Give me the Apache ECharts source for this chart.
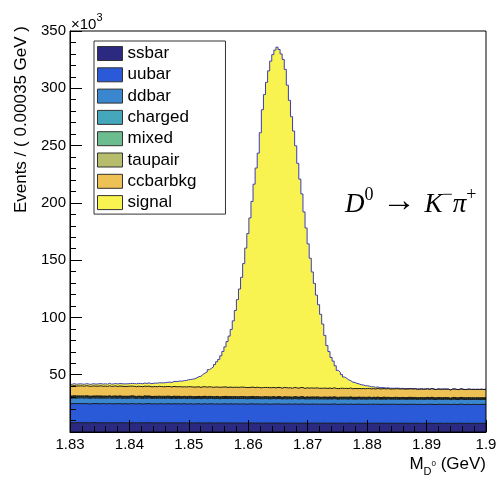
<!DOCTYPE html>
<html>
<head>
<meta charset="utf-8">
<script src="https://cdn.jsdelivr.net/npm/echarts@6/dist/echarts.min.js"></script>
<style>
  html, body { margin: 0; padding: 0; background: #fff; }
  #chart { width: 497px; height: 481px; }
</style>
</head>
<body>
<div id="chart"></div>
<script>
// Binning of the D0 candidate mass histogram (GeV)
const X_MIN = 1.83;
const X_MAX = 1.9;
const BIN_WIDTH = 0.00035;

// Axis ticks
const xTickInterval = 0.01;
const yTickInterval = 50;
const yMax = 350;

// Stack components, bottom to top
const componentNames = ['ssbar', 'uubar', 'ddbar', 'charged', 'mixed', 'taupair', 'ccbarbkg', 'signal'];

// Candidates per bin, in units of 10^3 events (200 bins each)
const ssbar = [
  8.1,8.0,8.2,8.1,8.1,8.0,8.2,8.1,8.0,8.1,8.1,8.2,8.0,8.1,8.0,8.1,8.1,8.0,8.1,8.0,
  8.1,8.0,8.0,8.1,8.0,8.1,7.9,8.0,8.1,8.0,8.0,7.9,8.1,8.0,8.0,7.9,8.0,8.1,8.0,7.9,
  8.0,7.9,8.0,8.0,7.9,8.1,7.9,8.0,7.9,8.0,7.9,8.0,7.9,7.9,8.0,7.9,7.8,8.0,7.9,7.9,
  7.9,8.0,7.8,7.9,7.9,7.8,8.0,7.9,7.9,7.8,7.9,7.9,7.8,7.9,7.9,7.8,7.9,7.8,7.9,7.9,
  7.8,7.9,7.8,7.9,7.8,7.8,7.9,7.8,7.8,7.9,7.8,7.8,7.7,7.9,7.8,7.8,7.7,7.8,7.8,7.9,
  7.8,7.7,7.8,7.8,7.7,7.8,7.7,7.8,7.8,7.7,7.8,7.7,7.7,7.8,7.7,7.8,7.7,7.7,7.8,7.7,
  7.7,7.8,7.7,7.6,7.7,7.7,7.8,7.7,7.6,7.7,7.7,7.7,7.6,7.7,7.8,7.7,7.6,7.7,7.7,7.6,
  7.7,7.6,7.7,7.7,7.6,7.7,7.6,7.7,7.7,7.6,7.7,7.6,7.6,7.7,7.6,7.7,7.6,7.6,7.7,7.6,
  7.6,7.7,7.6,7.6,7.5,7.7,7.6,7.6,7.6,7.5,7.6,7.7,7.6,7.6,7.5,7.6,7.6,7.7,7.6,7.5,
  7.6,7.6,7.5,7.6,7.6,7.5,7.6,7.7,7.6,7.5,7.6,7.6,7.5,7.6,7.5,7.6,7.6,7.5,7.6,7.6
];
const uubar = [
  16.6,16.8,16.5,16.7,16.6,16.9,16.5,16.7,16.6,16.4,16.7,16.6,16.8,16.5,16.6,16.7,16.5,16.6,16.8,16.6,
  16.5,16.7,16.6,16.8,16.4,16.6,16.7,16.5,16.6,16.8,16.6,16.5,16.7,16.6,16.4,16.7,16.6,16.8,16.5,16.6,
  16.7,16.5,16.6,16.7,16.6,16.4,16.8,16.6,16.5,16.7,16.6,16.7,16.5,16.6,16.8,16.5,16.6,16.7,16.4,16.6,
  16.6,16.7,16.5,16.6,16.8,16.5,16.6,16.7,16.6,16.5,16.7,16.4,16.6,16.7,16.6,16.5,16.8,16.6,16.5,16.7,
  16.6,16.5,16.7,16.6,16.4,16.7,16.6,16.8,16.5,16.6,16.7,16.5,16.6,16.6,16.7,16.4,16.6,16.7,16.5,16.6,
  16.7,16.5,16.6,16.4,16.7,16.6,16.5,16.7,16.6,16.5,16.6,16.8,16.5,16.6,16.4,16.6,16.7,16.5,16.6,16.5,
  16.6,16.4,16.7,16.5,16.6,16.5,16.7,16.6,16.4,16.6,16.5,16.7,16.6,16.5,16.6,16.4,16.6,16.5,16.7,16.5,
  16.5,16.6,16.4,16.6,16.5,16.7,16.5,16.6,16.4,16.5,16.6,16.5,16.7,16.4,16.6,16.5,16.6,16.4,16.5,16.6,
  16.5,16.4,16.6,16.5,16.7,16.5,16.4,16.6,16.5,16.5,16.4,16.6,16.5,16.7,16.5,16.4,16.6,16.5,16.4,16.6,
  16.5,16.6,16.4,16.5,16.6,16.4,16.5,16.7,16.5,16.4,16.6,16.5,16.4,16.6,16.5,16.5,16.4,16.6,16.5,16.5
];
const ddbar = [
  4.9,5.0,4.8,4.9,5.1,4.9,4.8,5.0,4.9,4.9,5.0,4.8,4.9,5.0,4.9,4.8,5.0,4.9,4.9,4.8,
  5.0,4.9,4.8,4.9,5.0,4.8,4.9,4.9,4.8,5.0,4.9,4.8,4.9,4.9,4.8,5.0,4.8,4.9,4.8,4.9,
  4.8,4.9,4.9,4.7,4.9,4.8,4.9,4.8,4.8,4.9,4.7,4.8,4.9,4.8,4.8,4.7,4.9,4.8,4.8,4.7,
  4.8,4.8,4.7,4.9,4.8,4.7,4.8,4.8,4.7,4.8,4.8,4.7,4.8,4.7,4.8,4.8,4.7,4.7,4.8,4.7,
  4.7,4.8,4.7,4.7,4.8,4.6,4.7,4.8,4.7,4.7,4.6,4.8,4.7,4.7,4.6,4.7,4.7,4.8,4.6,4.7,
  4.7,4.6,4.7,4.7,4.6,4.7,4.6,4.7,4.7,4.6,4.6,4.7,4.6,4.6,4.7,4.6,4.5,4.7,4.6,4.6,
  4.6,4.6,4.5,4.6,4.7,4.5,4.6,4.6,4.5,4.6,4.6,4.5,4.6,4.5,4.6,4.6,4.5,4.5,4.6,4.5,
  4.6,4.5,4.5,4.6,4.5,4.5,4.4,4.6,4.5,4.5,4.5,4.4,4.6,4.5,4.5,4.4,4.5,4.5,4.4,4.5,
  4.5,4.4,4.5,4.5,4.4,4.5,4.4,4.4,4.5,4.4,4.5,4.4,4.4,4.5,4.4,4.3,4.5,4.4,4.4,4.5,
  4.4,4.4,4.3,4.5,4.4,4.4,4.3,4.4,4.4,4.5,4.3,4.4,4.4,4.3,4.4,4.4,4.3,4.4,4.4,4.4
];
const charged = [
  0.8,0.9,0.8,0.8,0.7,0.8,0.9,0.8,0.8,0.8,0.7,0.8,0.9,0.8,0.8,0.7,0.8,0.8,0.9,0.8,
  0.8,0.7,0.8,0.8,0.8,0.9,0.7,0.8,0.8,0.7,0.8,0.8,0.8,0.7,0.8,0.9,0.8,0.7,0.8,0.8,
  0.7,0.8,0.8,0.7,0.8,0.8,0.7,0.8,0.7,0.8,0.8,0.7,0.8,0.7,0.7,0.8,0.8,0.7,0.7,0.8,
  0.7,0.7,0.8,0.7,0.7,0.8,0.7,0.7,0.7,0.8,0.7,0.7,0.6,0.7,0.8,0.7,0.7,0.7,0.7,0.6,
  0.7,0.7,0.7,0.8,0.7,0.7,0.6,0.7,0.7,0.7,0.7,0.6,0.7,0.7,0.7,0.7,0.6,0.7,0.7,0.7,
  0.7,0.6,0.7,0.7,0.7,0.6,0.7,0.7,0.6,0.7,0.7,0.7,0.6,0.7,0.7,0.6,0.7,0.7,0.6,0.7,
  0.6,0.7,0.7,0.6,0.7,0.6,0.7,0.6,0.7,0.7,0.6,0.6,0.7,0.6,0.7,0.6,0.6,0.7,0.6,0.6,
  0.7,0.6,0.6,0.7,0.6,0.6,0.6,0.7,0.6,0.6,0.6,0.7,0.6,0.6,0.5,0.6,0.7,0.6,0.6,0.6,
  0.6,0.6,0.7,0.6,0.6,0.5,0.6,0.6,0.6,0.7,0.6,0.6,0.5,0.6,0.6,0.6,0.6,0.5,0.6,0.6,
  0.6,0.5,0.6,0.6,0.6,0.6,0.5,0.6,0.6,0.6,0.5,0.6,0.6,0.6,0.5,0.6,0.6,0.6,0.5,0.6
];
const mixed = [
  0.6,0.6,0.7,0.6,0.6,0.5,0.6,0.6,0.7,0.6,0.6,0.6,0.5,0.6,0.7,0.6,0.6,0.6,0.5,0.6,
  0.6,0.7,0.6,0.6,0.6,0.5,0.6,0.6,0.6,0.7,0.6,0.6,0.5,0.6,0.6,0.6,0.7,0.6,0.6,0.5,
  0.6,0.6,0.6,0.5,0.6,0.6,0.7,0.6,0.6,0.5,0.6,0.6,0.6,0.6,0.5,0.6,0.6,0.6,0.6,0.5,
  0.6,0.6,0.5,0.6,0.6,0.6,0.6,0.5,0.6,0.6,0.6,0.5,0.6,0.6,0.6,0.6,0.5,0.6,0.6,0.6,
  0.5,0.6,0.6,0.6,0.5,0.6,0.6,0.6,0.5,0.6,0.6,0.5,0.6,0.6,0.5,0.6,0.6,0.6,0.5,0.6,
  0.6,0.5,0.6,0.6,0.5,0.6,0.5,0.6,0.6,0.5,0.6,0.6,0.5,0.6,0.5,0.6,0.6,0.5,0.6,0.5,
  0.5,0.6,0.5,0.6,0.5,0.6,0.5,0.5,0.6,0.5,0.6,0.5,0.5,0.6,0.5,0.5,0.6,0.5,0.5,0.6,
  0.5,0.5,0.6,0.5,0.5,0.5,0.6,0.5,0.5,0.5,0.6,0.5,0.5,0.5,0.5,0.6,0.5,0.5,0.5,0.5,
  0.5,0.5,0.5,0.6,0.5,0.5,0.5,0.4,0.5,0.5,0.5,0.6,0.5,0.5,0.5,0.5,0.4,0.5,0.5,0.5,
  0.5,0.5,0.4,0.5,0.5,0.5,0.5,0.5,0.4,0.5,0.5,0.5,0.5,0.4,0.5,0.5,0.5,0.5,0.4,0.5
];
const taupair = [
  0.4,0.4,0.5,0.4,0.3,0.4,0.4,0.5,0.4,0.4,0.3,0.4,0.4,0.4,0.5,0.4,0.4,0.3,0.4,0.4,
  0.4,0.5,0.4,0.4,0.4,0.3,0.4,0.4,0.5,0.4,0.4,0.4,0.3,0.4,0.4,0.5,0.4,0.4,0.4,0.3,
  0.4,0.4,0.4,0.5,0.4,0.4,0.3,0.4,0.4,0.4,0.5,0.4,0.4,0.3,0.4,0.4,0.4,0.4,0.5,0.4,
  0.3,0.4,0.4,0.4,0.4,0.5,0.4,0.4,0.3,0.4,0.4,0.4,0.5,0.4,0.4,0.4,0.3,0.4,0.4,0.4,
  0.4,0.5,0.4,0.3,0.4,0.4,0.4,0.4,0.5,0.4,0.3,0.4,0.4,0.4,0.4,0.5,0.4,0.4,0.3,0.4,
  0.4,0.4,0.4,0.5,0.4,0.3,0.4,0.4,0.4,0.4,0.5,0.4,0.3,0.4,0.4,0.4,0.4,0.4,0.5,0.4,
  0.3,0.4,0.4,0.4,0.4,0.4,0.5,0.4,0.4,0.3,0.4,0.4,0.4,0.4,0.5,0.4,0.4,0.3,0.4,0.4,
  0.4,0.4,0.5,0.4,0.3,0.4,0.4,0.4,0.4,0.4,0.5,0.4,0.3,0.4,0.4,0.4,0.4,0.5,0.4,0.4,
  0.3,0.4,0.4,0.4,0.4,0.5,0.4,0.4,0.3,0.4,0.4,0.4,0.4,0.5,0.4,0.3,0.4,0.4,0.4,0.4,
  0.4,0.4,0.3,0.4,0.5,0.4,0.4,0.4,0.4,0.3,0.4,0.4,0.5,0.4,0.4,0.4,0.4,0.3,0.4,0.4
];
const ccbarbkg = [
  8.7,8.8,8.6,8.7,8.9,8.7,8.6,8.8,8.7,8.6,8.8,8.7,8.5,8.7,8.8,8.6,8.7,8.6,8.8,8.6,
  8.6,8.7,8.5,8.6,8.7,8.6,8.5,8.7,8.6,8.4,8.6,8.5,8.7,8.5,8.6,8.4,8.5,8.6,8.4,8.5,
  8.5,8.4,8.6,8.5,8.3,8.5,8.4,8.5,8.3,8.5,8.4,8.3,8.5,8.4,8.3,8.4,8.5,8.3,8.4,8.3,
  8.4,8.3,8.2,8.4,8.3,8.2,8.4,8.3,8.2,8.3,8.2,8.4,8.2,8.3,8.2,8.1,8.3,8.2,8.1,8.2,
  8.2,8.1,8.3,8.1,8.2,8.0,8.2,8.1,8.0,8.2,8.1,8.0,8.1,8.0,8.2,8.0,8.1,7.9,8.1,8.0,
  8.0,7.9,8.1,8.0,7.9,8.0,7.8,8.0,7.9,7.8,8.0,7.9,7.8,7.9,7.8,7.9,7.7,7.9,7.8,7.7,
  7.9,7.7,7.8,7.7,7.8,7.6,7.8,7.7,7.6,7.7,7.8,7.6,7.7,7.6,7.7,7.5,7.7,7.6,7.5,7.6,
  7.6,7.5,7.7,7.5,7.6,7.5,7.4,7.6,7.5,7.6,7.4,7.5,7.6,7.4,7.5,7.4,7.5,7.6,7.4,7.5,
  7.4,7.5,7.3,7.5,7.4,7.5,7.3,7.4,7.5,7.3,7.4,7.4,7.3,7.5,7.4,7.3,7.4,7.3,7.4,7.3,
  7.4,7.3,7.2,7.4,7.3,7.3,7.2,7.4,7.3,7.2,7.3,7.4,7.2,7.3,7.3,7.2,7.3,7.4,7.2,7.3
];
const signal = [
  1.5,1.7,1.6,1.6,1.8,1.6,1.7,1.7,1.8,1.7,1.9,1.8,1.8,2.0,1.9,1.9,2.0,1.9,2.1,2.0,
  2.0,2.1,2.2,2.1,2.2,2.2,2.3,2.2,2.3,2.4,2.4,2.5,2.5,2.6,2.5,2.7,2.6,2.8,2.7,2.9,
  3.0,3.1,3.1,3.3,3.4,3.5,3.7,3.8,4.0,4.3,4.5,4.7,4.9,5.1,5.4,5.7,6.0,6.3,6.8,7.3,
  8.0,8.8,9.8,10.8,12.0,13.3,14.9,16.3,17.8,19.7,22.0,24.4,27.4,31.0,35.0,40.0,44.5,50.5,58.0,67.0,
  76.6,85.7,95.8,108.0,121.7,134.4,147.8,162.0,177.6,191.3,204.6,222.6,242.5,255.6,266.3,276.5,285.0,290.5,294.8,297.0,
  295.0,291.8,286.3,277.8,264.2,250.9,237.0,223.8,211.2,196.3,181.9,169.0,154.1,139.5,126.0,113.2,101.4,91.3,81.0,73.0,
  64.5,56.0,46.0,37.5,31.8,27.2,23.3,19.7,16.0,14.0,11.9,10.0,8.8,7.6,6.4,5.8,5.2,4.6,4.0,3.4,
  3.1,2.7,2.4,2.0,1.8,1.6,1.4,1.3,1.1,1.0,0.8,0.8,0.7,0.7,0.6,0.6,0.5,0.5,0.5,0.4,
  0.4,0.4,0.3,0.3,0.3,0.3,0.3,0.2,0.3,0.2,0.2,0.2,0.2,0.2,0.2,0.1,0.2,0.2,0.1,0.2,
  0.1,0.2,0.1,0.1,0.2,0.1,0.1,0.1,0.2,0.1,0.1,0.1,0.1,0.1,0.1,0.1,0.1,0.1,0.1,0.1
];

const componentYields = [ssbar, uubar, ddbar, charged, mixed, taupair, ccbarbkg, signal];

// Fill and outline styles per component
const fillColors = ['#2c2a80', '#2a5ad8', '#3a87d0', '#44a7bb', '#6bbd8f', '#b8bd6d', '#edc153', '#f8f350'];
const edgeColors = ['#1a1a1a', '#1a1a1a', '#1a1a1a', '#1a1a1a', '#1a1a1a', '#1a1a1a', '#1a1a1a', '#3d3db3'];

// Running sums: the top edge of each layer of the stack
const stackTops = [];
componentYields.reduce((below, values) => {
  const top = values.map((v, i) => below[i] + v);
  stackTops.push(top);
  return top;
}, new Array(ssbar.length).fill(0));

// Histogram as step points: one point per bin left edge, plus the closing right edge
function histPoints(values) {
  const pts = values.map((v, i) => [X_MIN + i * BIN_WIDTH, v]);
  pts.push([X_MAX, values[values.length - 1]]);
  return pts;
}

const SANS = '"Liberation Sans", Arial, Helvetica, sans-serif';
const SERIF = '"Liberation Serif", "Times New Roman", Times, serif';

// Each layer is filled from zero up to its stack top; the upper layers are
// painted first so that the lower ones cover them.
const layerSeries = componentNames.map((name, k) => ({
  name,
  type: 'line',
  step: 'end',
  symbol: 'none',
  showSymbol: false,
  silent: true,
  z: 2,
  color: fillColors[k],
  itemStyle: { color: fillColors[k] },
  lineStyle: { color: edgeColors[k], width: 1 },
  areaStyle: { color: fillColors[k], opacity: 1, origin: 'start' },
  data: histPoints(stackTops[k])
})).reverse();

const chart = echarts.init(document.getElementById('chart'), null, { renderer: 'canvas' });

chart.setOption({
  animation: false,
  backgroundColor: '#ffffff',
  grid: {
    left: 70, right: 11, top: 31, bottom: 49,
    show: true, z: 10,
    backgroundColor: 'transparent',
    borderColor: '#000', borderWidth: 1,
    containLabel: false,
    outerBoundsMode: 'none'
  },
  xAxis: {
    type: 'value',
    min: X_MIN, max: X_MAX, interval: xTickInterval,
    z: 10,
    axisLine: { show: true, onZero: false, lineStyle: { color: '#000', width: 1 } },
    axisTick: { show: true, inside: true, length: 12, lineStyle: { color: '#000', width: 1 } },
    minorTick: { show: true, splitNumber: 5, length: 6, lineStyle: { color: '#000', width: 1 } },
    splitLine: { show: false },
    minorSplitLine: { show: false },
    axisLabel: {
      color: '#000', fontFamily: SANS, fontSize: 15, margin: 5,
      showMinLabel: true, showMaxLabel: true,
      formatter: v => String(parseFloat(v.toFixed(2)))
    }
  },
  yAxis: {
    type: 'value',
    min: 0, max: yMax, interval: yTickInterval,
    z: 10,
    axisLine: { show: true, onZero: false, lineStyle: { color: '#000', width: 1 } },
    axisTick: { show: true, inside: true, length: 12, lineStyle: { color: '#000', width: 1 } },
    minorTick: { show: true, splitNumber: 5, length: 6, lineStyle: { color: '#000', width: 1 } },
    splitLine: { show: false },
    minorSplitLine: { show: false },
    axisLabel: {
      color: '#000', fontFamily: SANS, fontSize: 15, margin: 4,
      formatter: v => (v === 0 ? '' : String(Math.round(v)))
    }
  },
  legend: {
    show: true,
    orient: 'vertical',
    left: 94, top: 41,
    padding: [4, 29, 3, 3],
    itemGap: 4.3,
    itemWidth: 25, itemHeight: 14,
    icon: 'rect',
    selectedMode: false,
    borderColor: '#333', borderWidth: 1,
    backgroundColor: '#fff',
    z: 20,
    textStyle: { color: '#000', fontFamily: SANS, fontSize: 17 },
    itemStyle: { borderColor: '#333', borderWidth: 1 },
    data: componentNames.map((name, k) => ({
      name,
      icon: 'rect',
      itemStyle: { color: fillColors[k], borderColor: '#333', borderWidth: 1 }
    }))
  },
  series: layerSeries,
  graphic: [
    {
      type: 'text', left: 71, top: 12, z: 30,
      style: {
        text: '{b|×10}{s|3}',
        rich: {
          b: { fontFamily: SANS, fontSize: 15, fill: '#000', lineHeight: 20, verticalAlign: 'bottom' },
          s: { fontFamily: SANS, fontSize: 11, fill: '#000', lineHeight: 20, verticalAlign: 'top' }
        }
      }
    },
    {
      type: 'text', x: 21, y: 26, rotation: Math.PI / 2, z: 30,
      style: {
        text: 'Events / ( 0.00035 GeV )',
        fontFamily: SANS, fontSize: 17, fill: '#000',
        align: 'right', verticalAlign: 'middle'
      }
    },
    {
      type: 'text', x: 486, y: 464, z: 30,
      style: {
        text: '{b|M}{sub|D}{sup|0}{b| (GeV)}',
        align: 'right', verticalAlign: 'middle',
        rich: {
          b: { fontFamily: SANS, fontSize: 17, fill: '#000', lineHeight: 26, verticalAlign: 'middle' },
          sub: { fontFamily: SANS, fontSize: 11, fill: '#000', lineHeight: 11, verticalAlign: 'bottom' },
          sup: { fontFamily: SANS, fontSize: 8, fill: '#000', lineHeight: 8, verticalAlign: 'middle' }
        }
      }
    },
    {
      type: 'text', x: 345, y: 202, z: 30,
      style: {
        text: '{it|D}{up|0}{ar| → }{it|K}{up|−}{it|π}{up|+}',
        align: 'left', verticalAlign: 'middle',
        rich: {
          it: { fontFamily: SERIF, fontStyle: 'italic', fontSize: 27, fill: '#000', lineHeight: 32, verticalAlign: 'bottom' },
          up: { fontFamily: SERIF, fontSize: 18, fill: '#000', lineHeight: 32, verticalAlign: 'top' },
          ar: { fontFamily: SERIF, fontSize: 34, fill: '#000', lineHeight: 32, verticalAlign: 'middle' }
        }
      }
    }
  ]
});
</script>
</body>
</html>
